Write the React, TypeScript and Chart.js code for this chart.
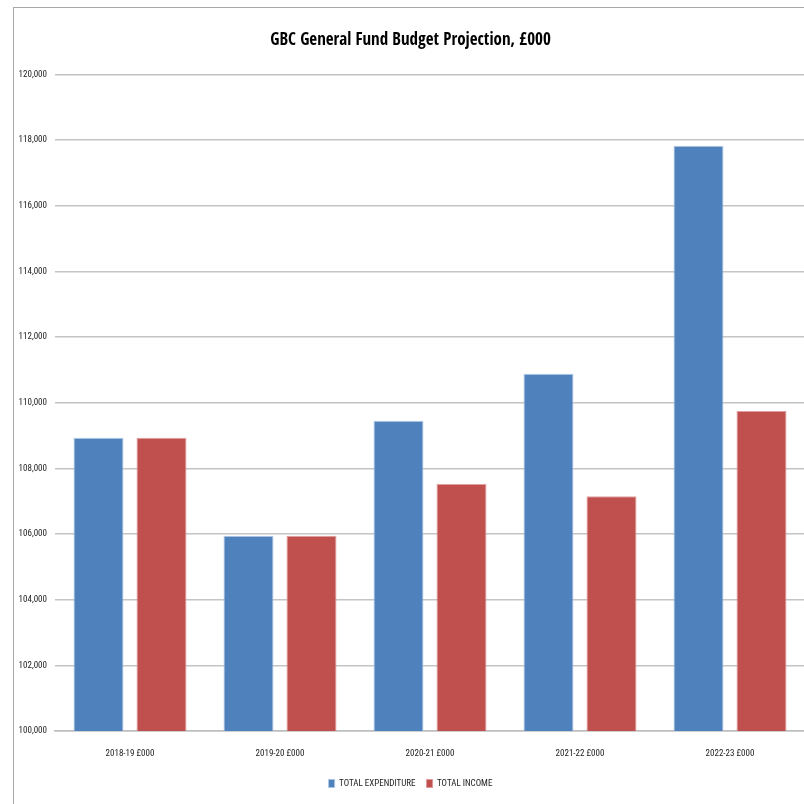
import React, { useEffect, useRef } from "react";
import { Chart, registerables } from "chart.js";

Chart.register(...registerables);

const categories = ["2018-19 £000", "2019-20 £000", "2020-21 £000", "2021-22 £000", "2022-23 £000"];
const totalExpenditure = [108930, 105950, 109450, 110880, 117830];
const totalIncome = [108930, 105950, 107520, 107150, 109750];
const yMin = 100000;
const yMax = 120000;
const yStep = 2000;
const titleText = "GBC General Fund Budget Projection, £000";
const seriesNames = ["TOTAL EXPENDITURE", "TOTAL INCOME"];

const TITLE_FONT = "'Open Sans Condensed', 'Roboto Condensed', sans-serif";
const FONT = "'Roboto Condensed', 'DejaVu Sans Condensed', sans-serif";

export default function App() {
  const ref = useRef<HTMLCanvasElement>(null);

  useEffect(() => {
    if (!ref.current) return;
    const chart = new Chart(ref.current, {
      type: "bar",
      data: {
        labels: categories,
        datasets: [
          {
            label: seriesNames[0],
            data: totalExpenditure,
            backgroundColor: "#4F81BD",
            borderColor: "rgba(170,196,228,0.9)",
            borderWidth: 1,
            categoryPercentage: 0.84,
            barPercentage: 0.794,
          },
          {
            label: seriesNames[1],
            data: totalIncome,
            backgroundColor: "#C0504D",
            borderColor: "rgba(222,150,148,0.9)",
            borderWidth: 1,
            categoryPercentage: 0.84,
            barPercentage: 0.794,
          },
        ],
      },
      options: {
        responsive: false,
        animation: false,
        layout: { padding: { left: 16, right: 0, top: 0, bottom: 6 } },
        plugins: {
          title: {
            display: true,
            text: titleText,
            color: "#000",
            font: { family: TITLE_FONT, size: 17, weight: "bold", lineHeight: 1.2 },
            padding: { top: 30, bottom: 24 },
          },
          legend: {
            position: "bottom",
            labels: {
              color: "#222",
              font: { family: FONT, size: 9 },
              boxWidth: 6,
              boxHeight: 8,
              padding: 11,
            },
          },
          tooltip: { enabled: false },
        },
        scales: {
          x: {
            grid: { display: false },
            border: { display: true, color: "#bdbdbd", width: 1.5 },
            ticks: { color: "#222", font: { family: FONT, size: 9 }, padding: 9, maxRotation: 0 },
            afterFit: (s: any) => {
              s.height = 37;
            },
          },
          y: {
            min: yMin,
            max: yMax,
            border: { display: false },
            grid: { color: "#c4c4c4", lineWidth: 1.5, drawTicks: false },
            ticks: {
              stepSize: yStep,
              color: "#222",
              font: { family: FONT, size: 9 },
              padding: 8,
              callback: (v: any) => Number(v).toLocaleString("en-GB"),
            },
            afterFit: (s: any) => {
              s.width = 39;
            },
          },
        },
      },
    });
    return () => chart.destroy();
  }, []);

  return (
    <div style={{ position: "fixed", left: 0, top: 0, width: 804, height: 804, overflow: "hidden", background: "#fff" }}>
      <canvas ref={ref} width={805} height={804} style={{ display: "block" }} />
      <div
        style={{
          position: "absolute",
          left: 13,
          top: 7,
          right: 0,
          bottom: 0,
          borderLeft: "1px solid #a8a8a8",
          borderTop: "1px solid #a8a8a8",
          pointerEvents: "none",
        }}
      />
    </div>
  );
}
